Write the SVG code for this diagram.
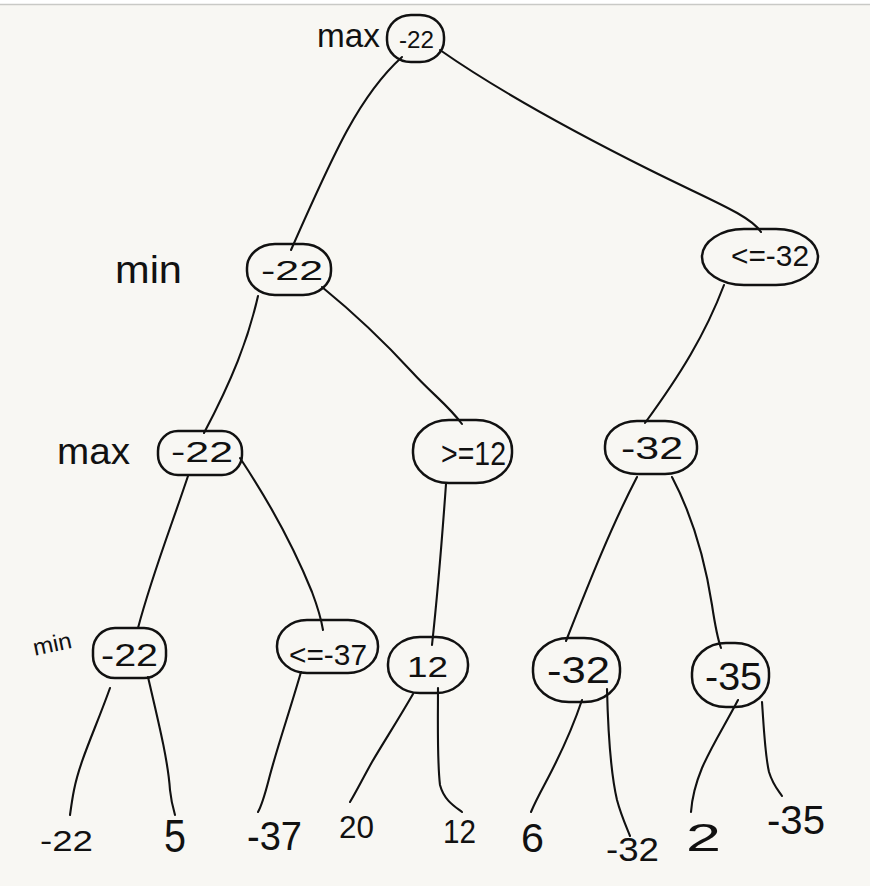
<svg xmlns="http://www.w3.org/2000/svg" width="870" height="886" viewBox="0 0 870 886">
  <style>
    .node { fill: none; stroke: #111; stroke-width: 2.5; stroke-linejoin: round; }
    .edge { fill: none; stroke: #111; stroke-width: 2.1; stroke-linecap: round; stroke-linejoin: round; }
    .t { font-family: "Liberation Sans", Arial, sans-serif; fill: #111; }
    .lbl { font-family: "Liberation Sans", Arial, sans-serif; fill: #111; }
  </style>

  <!-- paper -->
  <rect x="0" y="0" width="870" height="886" fill="#f8f7f3"/>
  <rect x="0" y="0" width="870" height="4" fill="#ffffff"/>
  <line x1="0" y1="4.5" x2="870" y2="4.5" stroke="#c9c9c6" stroke-width="1.5"/>

  <!-- connectors -->
  <g id="edges">
    <path class="edge" d="M402,57 C360,95 335,150 291,250"/>
    <path class="edge" d="M440,50 C490,85 560,125 650,170 C710,200 750,215 761,232"/>
    <path class="edge" d="M258,296 C248,340 232,380 204,433"/>
    <path class="edge" d="M322,287 C360,318 390,348 412,372 C432,394 448,405 462,424"/>
    <path class="edge" d="M724,285 C705,335 680,375 645,423"/>
    <path class="edge" d="M188,476 C170,530 152,575 138,628"/>
    <path class="edge" d="M240,458 C268,500 295,550 312,592 C318,608 321,618 323,630"/>
    <path class="edge" d="M446,484 C442,540 438,590 432,645"/>
    <path class="edge" d="M637,477 C612,525 590,580 566,641"/>
    <path class="edge" d="M672,477 C692,515 705,560 712,605 C715,625 717,637 721,648"/>
    <path class="edge" d="M110,688 C95,730 80,760 74,790 C72,800 71,808 70,815"/>
    <path class="edge" d="M148,677 C158,720 168,760 170,790 C171,800 173,808 175,815"/>
    <path class="edge" d="M301,672 C290,710 278,745 270,775 C266,790 263,803 258,812"/>
    <path class="edge" d="M413,694 C398,720 385,740 372,762 C362,780 356,792 350,802"/>
    <path class="edge" d="M438,688 C438,720 437,760 440,785 C444,800 454,806 462,812"/>
    <path class="edge" d="M582,700 C572,730 560,755 548,778 C540,793 535,802 531,812"/>
    <path class="edge" d="M607,689 C608,730 610,770 617,800 C621,815 626,826 630,836"/>
    <path class="edge" d="M738,700 C725,725 712,745 702,768 C695,785 692,798 691,812"/>
    <path class="edge" d="M762,702 C764,730 765,755 769,772 C773,785 778,790 782,796"/>
  </g>

  <!-- level labels -->
  <g id="level-labels">
    <text class="lbl" x="317" y="47" font-size="34" textLength="63" lengthAdjust="spacingAndGlyphs">max</text>
    <text class="lbl" x="115" y="283" font-size="38" textLength="67" lengthAdjust="spacingAndGlyphs">min</text>
    <text class="lbl" x="57" y="464" font-size="36" textLength="73" lengthAdjust="spacingAndGlyphs">max</text>
    <text class="lbl" x="33" y="652" font-size="23" textLength="39" lengthAdjust="spacingAndGlyphs" transform="rotate(-12 52 645)">min</text>
  </g>

  <!-- max root -->
  <g id="n-root">
    <rect class="node" x="387" y="15" width="57" height="47" rx="24" ry="22"/>
    <text class="t" x="399" y="48" font-size="24" textLength="35" lengthAdjust="spacingAndGlyphs">-22</text>
  </g>

  <!-- min level -->
  <g id="n-min-left">
    <rect class="node" x="247" y="244" width="84" height="51" rx="28" ry="24"/>
    <text class="t" x="261" y="280" font-size="27" textLength="62" lengthAdjust="spacingAndGlyphs">-22</text>
  </g>
  <g id="n-min-right">
    <rect class="node" x="702" y="229" width="116" height="56" rx="42" ry="28"/>
    <text class="t" x="731" y="266" font-size="29" textLength="78" lengthAdjust="spacingAndGlyphs">&lt;=-32</text>
  </g>

  <!-- max level -->
  <g id="n-max-a">
    <rect class="node" x="158" y="431" width="84" height="44" rx="20" ry="20"/>
    <text class="t" x="171" y="462" font-size="29" textLength="62" lengthAdjust="spacingAndGlyphs">-22</text>
  </g>
  <g id="n-max-b">
    <rect class="node" x="413" y="420" width="99" height="63" rx="36" ry="30"/>
    <text class="t" x="441" y="465" font-size="34" textLength="65" lengthAdjust="spacingAndGlyphs">&gt;=12</text>
  </g>
  <g id="n-max-c">
    <rect class="node" x="605" y="421" width="92" height="53" rx="32" ry="25"/>
    <text class="t" x="621" y="459" font-size="32" textLength="62" lengthAdjust="spacingAndGlyphs">-32</text>
  </g>

  <!-- min level (bottom) -->
  <g id="n-min-a">
    <rect class="node" x="93" y="628" width="73" height="50" rx="22" ry="22"/>
    <text class="t" x="101" y="666" font-size="31" textLength="57" lengthAdjust="spacingAndGlyphs">-22</text>
  </g>
  <g id="n-min-b">
    <rect class="node" x="277" y="620" width="101" height="53" rx="30" ry="26"/>
    <text class="t" x="289" y="665" font-size="30" textLength="78" lengthAdjust="spacingAndGlyphs">&lt;=-37</text>
  </g>
  <g id="n-min-c">
    <rect class="node" x="388" y="637" width="80" height="56" rx="32" ry="27"/>
    <text class="t" x="407" y="677" font-size="30" textLength="41" lengthAdjust="spacingAndGlyphs">12</text>
  </g>
  <g id="n-min-d">
    <rect class="node" x="533" y="638" width="87" height="64" rx="36" ry="30"/>
    <text class="t" x="547" y="683" font-size="36" textLength="63" lengthAdjust="spacingAndGlyphs">-32</text>
  </g>
  <g id="n-min-e">
    <rect class="node" x="692" y="643" width="77" height="64" rx="34" ry="30"/>
    <text class="t" x="705" y="690" font-size="38" textLength="57" lengthAdjust="spacingAndGlyphs">-35</text>
  </g>

  <!-- leaf values -->
  <g id="leaves">
    <text class="t" x="40" y="851" font-size="30" textLength="53" lengthAdjust="spacingAndGlyphs">-22</text>
    <text class="t" x="164" y="852" font-size="46" textLength="22" lengthAdjust="spacingAndGlyphs">5</text>
    <text class="t" x="247" y="850" font-size="40" textLength="55" lengthAdjust="spacingAndGlyphs">-37</text>
    <text class="t" x="339" y="838" font-size="31" textLength="35" lengthAdjust="spacingAndGlyphs">20</text>
    <text class="t" x="443" y="843" font-size="34" textLength="33" lengthAdjust="spacingAndGlyphs">12</text>
    <text class="t" x="521" y="852" font-size="41" textLength="23" lengthAdjust="spacingAndGlyphs">6</text>
    <text class="t" x="606" y="861" font-size="33" textLength="53" lengthAdjust="spacingAndGlyphs">-32</text>
    <text class="t" x="686" y="851" font-size="38" textLength="35" lengthAdjust="spacingAndGlyphs">2</text>
    <text class="t" x="767" y="834" font-size="41" textLength="58" lengthAdjust="spacingAndGlyphs">-35</text>
  </g>
</svg>
